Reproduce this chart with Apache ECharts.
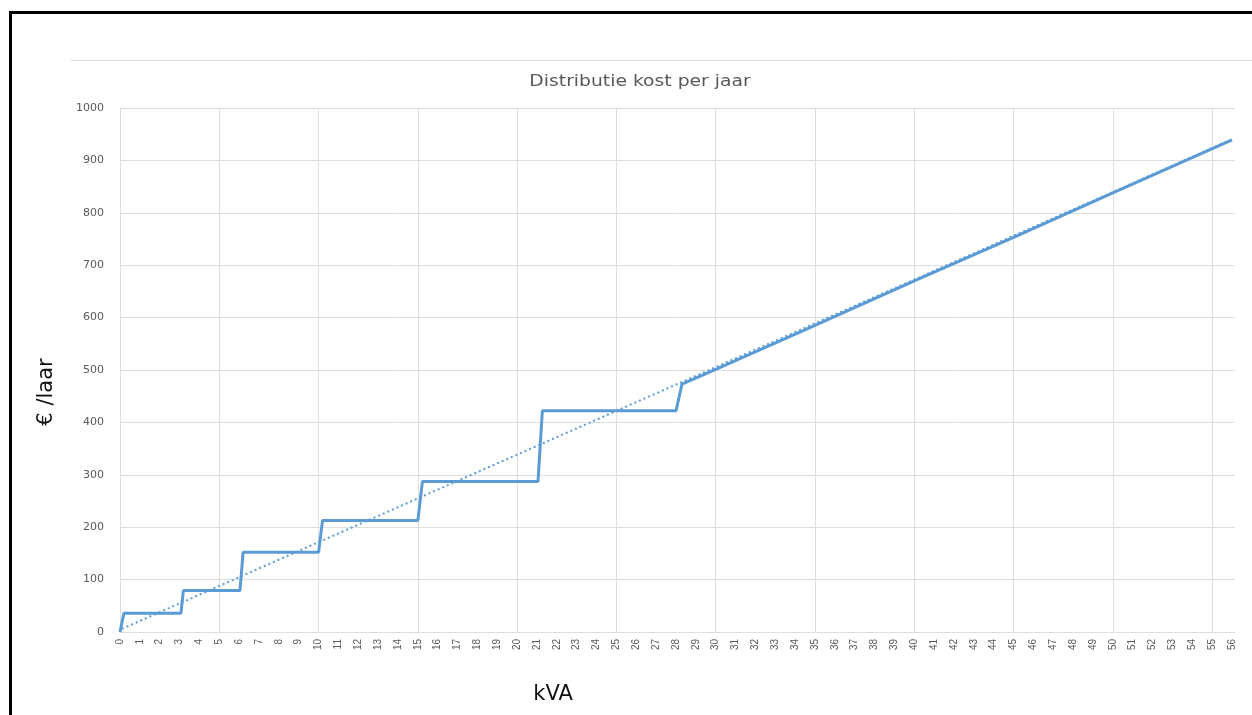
<!DOCTYPE html>
<html>
<head>
<meta charset="utf-8">
<title>Distributie kost per jaar</title>
<script src="https://cdn.jsdelivr.net/npm/echarts@6/dist/echarts.min.js"></script>
<style>
  html, body { margin: 0; padding: 0; background: #fff; }
  #chart { width: 1252px; height: 715px; }
</style>
</head>
<body>
<div id="chart"></div>
<script>
// Yearly distribution cost (€) against connection capacity (kVA)
const kva  = [0, 0.2, 3.07, 3.19, 6.04, 6.2, 10.0, 10.2, 15.0, 15.23, 21.05, 21.27, 28.0, 28.3, 30, 35, 40, 45, 50, 56];
const cost = [0, 36, 36, 79, 79, 152, 152, 213, 213, 287, 287, 422, 422, 473, 501, 585, 670, 753, 838, 939];

// Linear trend through the tariff steps
const trendKva  = [0.1, 56];
const trendCost = [6, 940];

const xMin = 0, xMax = 56.15;
const yMin = 0, yMax = 1000, yStep = 100;

const costSeries  = kva.map((k, i) => [k, cost[i]]);
const trendSeries = trendKva.map((k, i) => [k, trendCost[i]]);

const blue = '#5b9bd5';
const grey = '#595959';
const gridGrey = '#dedede';

const chart = echarts.init(document.getElementById('chart'), null, { renderer: 'canvas' });

chart.setOption({
  animation: false,
  backgroundColor: '#fff',
  grid: { left: 120, right: 17, top: 108, bottom: 83, containLabel: false },
  graphic: [
    // frame
    { type: 'rect', shape: { x: 9, y: 11, width: 1300, height: 3 }, style: { fill: '#000' }, silent: true },
    { type: 'rect', shape: { x: 9, y: 11, width: 3, height: 760 }, style: { fill: '#000' }, silent: true },
    // chart area top edge
    { type: 'line', shape: { x1: 70, y1: 60.5, x2: 1252, y2: 60.5 }, style: { stroke: '#e2e2e2', lineWidth: 1 }, silent: true },
    // title (wide face)
    { type: 'text', x: 640, y: 82, scaleX: 1.25, style: { text: 'Distributie kost per jaar', fill: grey, fontSize: 15, fontFamily: 'DejaVu Sans', align: 'center', verticalAlign: 'middle' } },
    // axis titles
    { type: 'text', x: 47, y: 392, rotation: Math.PI / 2, style: { text: '€ /laar', fill: '#111', fontSize: 21, fontFamily: 'DejaVu Sans', align: 'center', verticalAlign: 'middle' } },
    { type: 'text', x: 553, y: 695, style: { text: 'kVA', fill: '#111', fontSize: 21, fontFamily: 'DejaVu Sans', align: 'center', verticalAlign: 'middle' } }
  ],
  xAxis: [
    {
      type: 'value', min: xMin, max: xMax, interval: 1,
      axisLine: { show: true, lineStyle: { color: gridGrey, width: 1 } },
      axisTick: { show: false },
      axisLabel: { rotate: 90, fontSize: 10, fontFamily: 'Liberation Sans', color: grey, margin: 7, showMaxLabel: false },
      splitLine: { show: false }
    },
    {
      type: 'value', min: xMin, max: xMax, interval: 5, position: 'bottom',
      axisLine: { show: false }, axisTick: { show: false }, axisLabel: { show: false },
      splitLine: { show: true, showMinLine: true, showMaxLine: false, lineStyle: { color: gridGrey, width: 1 } }
    }
  ],
  yAxis: {
    type: 'value', min: yMin, max: yMax, interval: yStep,
    axisLine: { show: false }, axisTick: { show: false },
    axisLabel: { fontSize: 11, fontFamily: 'DejaVu Sans', color: grey, margin: 16, formatter: v => String(v) },
    splitLine: { show: true, lineStyle: { color: gridGrey, width: 1 } }
  },
  series: [
    {
      name: 'Distributie kost', type: 'line', xAxisIndex: 0, data: costSeries,
      showSymbol: false, symbol: 'none',
      lineStyle: { color: blue, width: 3 }, z: 2
    },
    {
      name: 'Trend', type: 'line', xAxisIndex: 0, data: trendSeries,
      showSymbol: false, symbol: 'none',
      lineStyle: { color: blue, width: 2, type: [2, 3] }, z: 3
    }
  ]
});
</script>
</body>
</html>
